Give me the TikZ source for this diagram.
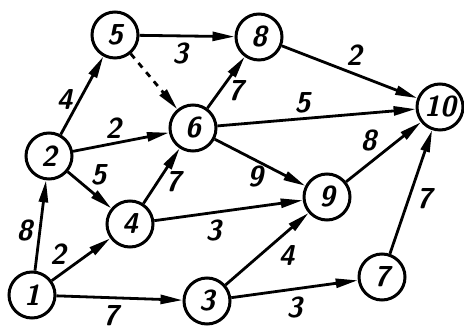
\documentclass[tikz,border=0pt]{standalone}
\usetikzlibrary{arrows.meta}
\tikzset{
  vtx/.style={circle,draw,line width=1.5pt,minimum size=23pt,inner sep=0pt,font=\sffamily\bfseries\itshape\Large},
  wt/.style={font=\sffamily\bfseries\itshape\Large,inner sep=1pt},
  >={Triangle[length=11pt,width=4.5pt]}
}
\begin{document}
\begin{tikzpicture}[x=0.5pt,y=-0.5pt,line width=1.4pt]
      \useasboundingbox (0,0) rectangle (464,335);
      \node[vtx] (n1) at (32,295){1};
      \node[vtx] (n2) at (49,156){2};
      \node[vtx] (n3) at (207,301){3};
      \node[vtx] (n4) at (130,224){4};
      \node[vtx] (n5) at (115,35){5};
      \node[vtx] (n6) at (193,128){6};
      \node[vtx] (n7) at (382,277){7};
      \node[vtx] (n8) at (259,37){8};
      \node[vtx] (n9) at (327,197){9};
      \node[vtx] (n10) at (440,107){10};

      \draw (n1) edge[->] node[wt,pos=0.45,left=2pt]{8} (n2);
      \draw (n1) edge[->] node[wt,pos=0.3,above left=0pt]{2} (n4);
      \draw (n1) edge[->] node[wt,pos=0.43,below=2pt]{7} (n3);
      \draw (n2) edge[->] node[wt,pos=0.45,left=2pt]{4} (n5);
      \draw (n2) edge[->] node[wt,pos=0.42,above=1pt]{2} (n6);
      \draw (n2) edge[->] node[wt,pos=0.45,above right=0pt]{5} (n4);
      \draw (n5) edge[->] node[wt,pos=0.43,below=2pt]{3} (n8);
      \draw (n5) edge[->,dashed] (n6);
      \draw (n4) edge[->] node[wt,pos=0.4,right=2pt]{7} (n6);
      \draw (n4) edge[->] node[wt,pos=0.4,below=2pt]{3} (n9);
      \draw (n6) edge[->] node[wt,pos=0.35,right=2pt]{7} (n8);
      \draw (n6) edge[->] node[wt,pos=0.43,above=1pt]{5} (n10);
      \draw (n6) edge[->] node[wt,pos=0.55,below left=-1pt]{9} (n9);
      \draw (n8) edge[->] node[wt,pos=0.45,above right=0pt]{2} (n10);
      \draw (n9) edge[->] node[wt,pos=0.45,above left=0pt]{8} (n10);
      \draw (n3) edge[->] node[wt,pos=0.6,below right=0pt]{4} (n9);
      \draw (n3) edge[->] node[wt,pos=0.5,below=2pt]{3} (n7);
      \draw (n7) edge[->] node[wt,pos=0.45,right=2pt]{7} (n10);
    \end{tikzpicture}
\end{document}
